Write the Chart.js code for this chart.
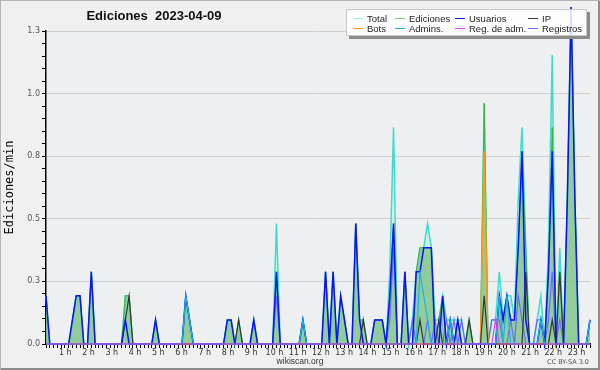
<!DOCTYPE html>
<html>
<head>
<meta charset="utf-8">
<script src="https://cdn.jsdelivr.net/npm/chart.js@4.4.1/dist/chart.umd.min.js"></script>
<style>
html, body { margin: 0; padding: 0; background: #fff; }
#frame { position: relative; width: 600px; height: 370px; background: #f0f0f0; overflow: hidden; }
#frame canvas { position: absolute; left: 0; top: 0; }
#edge { position: absolute; left: 0; top: 0; width: 600px; height: 370px; box-sizing: border-box;
  box-shadow: inset 1px 1px 0 #b4b4b4, inset -2px -2px 0 #8c8c8c; pointer-events: none; }
#title { position: absolute; left: 54px; width: 200px; top: 8px; text-align: center; white-space: pre;
  font: bold 13px "Liberation Sans", sans-serif; color: #111; }
#legend { position: absolute; left: 346px; top: 9px; width: 241px; height: 27px; box-sizing: border-box;
  background: rgba(255,255,255,0.85); border: 1px solid #c8c8c8; box-shadow: 3px 3px 0 #8a8a8a; }
.item { position: absolute; font: 9.5px "Liberation Sans", sans-serif; color: #222; white-space: nowrap; line-height: 10px; }
.sw { display: inline-block; width: 10px; height: 1px; vertical-align: 3px; margin-right: 4px; }
#site { position: absolute; left: 0; width: 600px; top: 356px; text-align: center; font: 8.5px "Liberation Sans", sans-serif; color: #333; }
#lic { position: absolute; right: 11px; top: 358px; font: 6.5px "DejaVu Sans", sans-serif; color: #555; }
</style>
</head>
<body>
<div id="frame">
  <canvas id="chart" width="600" height="370"></canvas>
  <div id="title">Ediciones  2023-04-09</div>
  <div id="legend"></div>
  <div id="site">wikiscan.org</div>
  <div id="lic">CC BY-SA 3.0</div>
  <div id="edge"></div>
</div>
<script>
// 10 minute bins from 00:00 to 24:00, values in edits per minute, two hours per row
const total = [
	0.2,0,0,0,0,0, 0,0.1,0.2,0.2,0,0,
	0.3,0,0,0,0,0, 0,0,0,0.2,0.2,0,
	0,0,0,0,0,0.1, 0,0,0,0,0,0,
	0,0.2,0.1,0,0,0, 0,0,0,0,0,0,
	0.1,0.1,0,0.1,0,0, 0,0.1,0,0,0,0,
	0,0.5,0,0,0,0, 0,0,0.1,0,0,0,
	0,0,0.3,0,0.3,0, 0.2,0.1,0,0,0.5,0.1,
	0.1,0,0,0.1,0.1,0.1, 0,0.3,0.9,0,0,0.3,
	0,0.1,0.3,0.4,0.4,0.5, 0.4,0.1,0.1,0.2,0.1,0.1,
	0.1,0.1,0.1,0,0.1,0, 0,0,1.0,0,0.1,0.1,
	0.3,0.1,0.2,0.2,0.1,0.6, 0.9,0.4,0,0,0.1,0.2,
	0,0.4,1.2,0,0.4,0, 0.6,1.4,0.6,0,0,0, 0.1
];
const ediciones = [
	0.2,0,0,0,0,0, 0,0.1,0.2,0.2,0,0,
	0.3,0,0,0,0,0, 0,0,0,0.2,0.2,0,
	0,0,0,0,0,0.1, 0,0,0,0,0,0,
	0,0.2,0.1,0,0,0, 0,0,0,0,0,0,
	0.1,0.1,0,0.1,0,0, 0,0.1,0,0,0,0,
	0,0.3,0,0,0,0, 0,0,0.1,0,0,0,
	0,0,0.3,0,0.3,0, 0.2,0.1,0,0,0.5,0.1,
	0.1,0,0,0.1,0.1,0.1, 0,0.2,0.5,0,0,0.3,
	0,0,0.3,0.4,0.4,0.4, 0.4,0,0.1,0.2,0,0.1,
	0,0.1,0,0,0.1,0, 0,0,1.0,0,0,0,
	0.2,0.1,0.2,0.1,0.1,0.4, 0.8,0.4,0,0,0,0.1,
	0,0.3,0.9,0,0.3,0, 0.6,1.4,0.6,0,0,0, 0.1
];
const usuarios = [
	0.2,0,0,0,0,0, 0,0.1,0.2,0.2,0,0,
	0.3,0,0,0,0,0, 0,0,0,0.1,0,0,
	0,0,0,0,0,0.1, 0,0,0,0,0,0,
	0,0.2,0.1,0,0,0, 0,0,0,0,0,0,
	0.1,0.1,0,0,0,0, 0,0.1,0,0,0,0,
	0,0.3,0,0,0,0, 0,0,0.1,0,0,0,
	0,0,0.3,0,0.3,0, 0.2,0.1,0,0,0.5,0.1,
	0,0,0,0.1,0.1,0.1, 0,0.2,0.5,0,0,0.3,
	0,0,0.3,0.3,0.4,0.4, 0.4,0,0,0.2,0,0.1,
	0,0.1,0,0,0,0, 0,0,0,0,0,0,
	0.2,0.1,0.2,0.1,0.1,0.4, 0.8,0.1,0,0,0,0.1,
	0,0.3,0.8,0,0,0, 0.6,1.4,0.6,0,0,0, 0.1
];
const ip = [
	0,0,0,0,0,0, 0,0,0,0,0,0,
	0,0,0,0,0,0, 0,0,0,0.1,0.2,0,
	0,0,0,0,0,0, 0,0,0,0,0,0,
	0,0,0,0,0,0, 0,0,0,0,0,0,
	0,0,0,0.1,0,0, 0,0,0,0,0,0,
	0,0,0,0,0,0, 0,0,0,0,0,0,
	0,0,0,0,0,0, 0,0,0,0,0,0,
	0.1,0,0,0,0,0, 0,0,0,0,0,0,
	0,0,0,0.1,0,0, 0,0,0.1,0,0,0,
	0,0,0,0,0.1,0, 0,0,0.2,0,0,0,
	0,0,0,0,0,0, 0,0.3,0,0,0,0,
	0,0,0.1,0,0.3,0, 0,0,0,0,0,0, 0
];
const bots = [
	0,0,0,0,0,0, 0,0,0,0,0,0,
	0,0,0,0,0,0, 0,0,0,0,0,0,
	0,0,0,0,0,0, 0,0,0,0,0,0,
	0,0,0,0,0,0, 0,0,0,0,0,0,
	0,0,0,0,0,0, 0,0,0,0,0,0,
	0,0,0,0,0,0, 0,0,0,0,0,0,
	0,0,0,0,0,0, 0,0,0,0,0,0,
	0,0,0,0,0,0, 0,0,0,0,0,0,
	0,0,0,0,0,0, 0,0,0,0,0,0,
	0,0,0,0,0,0, 0,0,0.8,0,0,0,
	0,0,0,0,0,0, 0,0,0,0,0,0,
	0,0,0,0,0,0, 0,0,0,0,0,0, 0
];
const admins = [
	0,0,0,0,0,0, 0,0,0,0,0,0,
	0,0,0,0,0,0, 0,0,0,0,0,0,
	0,0,0,0,0,0, 0,0,0,0,0,0,
	0,0.2,0.1,0,0,0, 0,0,0,0,0,0,
	0,0,0,0,0,0, 0,0,0,0,0,0,
	0,0,0,0,0,0, 0,0,0.1,0,0,0,
	0,0,0,0,0,0, 0,0,0,0,0,0,
	0,0,0,0,0,0, 0,0,0,0,0,0,
	0,0,0,0.3,0.2,0.1, 0,0,0,0,0,0.1,
	0,0,0,0,0,0, 0,0,0,0,0,0,
	0.2,0,0.2,0,0,0, 0,0,0,0,0,0.1,
	0,0,0,0,0,0, 0,0,0,0,0,0, 0.1
];
const regAdm = [
	0,0,0,0,0,0, 0,0,0,0,0,0,
	0,0,0,0,0,0, 0,0,0,0,0,0,
	0,0,0,0,0,0, 0,0,0,0,0,0,
	0,0,0,0,0,0, 0,0,0,0,0,0,
	0,0,0,0,0,0, 0,0,0,0,0,0,
	0,0,0,0,0,0, 0,0,0,0,0,0,
	0,0,0,0,0,0, 0,0,0,0,0,0,
	0,0,0,0,0,0, 0,0,0,0,0,0,
	0,0,0,0,0,0, 0,0,0,0,0,0,
	0,0,0,0,0,0, 0,0,0,0,0,0.1,
	0,0,0,0,0,0, 0,0,0,0,0,0,
	0,0,0,0,0,0, 0,0,0,0,0,0, 0
];
const registros = [
	0,0,0,0,0,0, 0,0,0,0,0,0,
	0,0,0,0,0,0, 0,0,0,0,0,0,
	0,0,0,0,0,0, 0,0,0,0,0,0,
	0,0,0,0,0,0, 0,0,0,0,0,0,
	0,0,0,0,0,0, 0,0,0,0,0,0,
	0,0.2,0,0,0,0, 0,0,0,0,0,0,
	0,0,0,0,0,0, 0,0,0,0,0,0,
	0,0,0,0,0,0, 0,0.1,0.4,0,0,0,
	0,0.1,0,0,0,0.1, 0,0.1,0,0,0.1,0,
	0.1,0,0.1,0,0,0, 0,0,0,0,0.1,0.1,
	0.1,0,0,0.1,0,0.2, 0.1,0,0,0,0.1,0.1,
	0,0.1,0.3,0,0.1,0, 0,0,0,0,0,0, 0
];

const hourTicks = ['1 h','2 h','3 h','4 h','5 h','6 h','7 h','8 h','9 h','10 h','11 h','12 h',
	'13 h','14 h','15 h','16 h','17 h','18 h','19 h','20 h','21 h','22 h','23 h'];
const yTicks = [0, 0.26, 0.52, 0.78, 1.04, 1.3];

const times = [];
for (let h = 0; h <= 24; h++) {
	for (let m = 0; m < 60; m += 10) {
		if (h === 24 && m > 0) break;
		times.push(String(h).padStart(2, '0') + ':' + String(m).padStart(2, '0'));
	}
}

// legend order: row 1 then row 2
const series = [
	{label: 'Total', data: total, color: '#3fdccc', key: '#9eeae4', width: 1.5, fill: 'rgba(196,238,234,0.6)', order: 8},
	{label: 'Ediciones', data: ediciones, color: '#3cb43c', key: '#7ccc7c', width: 1, fill: 'rgba(100,180,100,0.6)', order: 7},
	{label: 'Usuarios', data: usuarios, color: '#0a14f0', width: 1.5, order: 3},
	{label: 'IP', data: ip, color: '#333833', width: 1.2, order: 4},
	{label: 'Bots', data: bots, color: '#ff9a10', width: 1.5, order: 5},
	{label: 'Admins.', data: admins, color: '#1eb4dc', width: 1.2, order: 2},
	{label: 'Reg. de adm.', data: regAdm, color: '#e040f0', width: 1.2, order: 1},
	{label: 'Registros', data: registros, color: '#6a6aff', width: 1.2, order: 6}
];

const legendCols = [353, 395, 455, 528];
const legendRows = [4, 14];
const legend = document.getElementById('legend');
series.forEach(function (s, i) {
	const el = document.createElement('div');
	el.className = 'item';
	el.style.left = (legendCols[i % 4] - 347) + 'px';
	el.style.top = legendRows[Math.floor(i / 4)] + 'px';
	el.innerHTML = '<span class="sw" style="background:' + (s.key || s.color) + '"></span>' + s.label;
	legend.appendChild(el);
});

const plotBg = {
	id: 'plotBg',
	beforeDraw: function (chart) {
		const a = chart.chartArea;
		chart.ctx.save();
		chart.ctx.fillStyle = '#eeeff1';
		chart.ctx.fillRect(a.left, a.top, a.right - a.left, a.bottom - a.top);
		chart.ctx.restore();
	}
};

new Chart(document.getElementById('chart'), {
	type: 'line',
	data: {
		labels: times,
		datasets: series.map(function (s) {
			return {
				label: s.label,
				data: s.data,
				borderColor: s.color,
				borderWidth: s.width,
				backgroundColor: s.fill || s.color,
				fill: s.fill ? 'origin' : false,
				order: s.order,
				clip: false
			};
		})
	},
	options: {
		responsive: false,
		animation: false,
		layout: {padding: {left: 0, right: 10, top: 31, bottom: 0}},
		elements: {
			point: {radius: 0, hoverRadius: 0},
			line: {tension: 0, borderJoinStyle: 'miter'}
		},
		plugins: {
			legend: {display: false},
			tooltip: {enabled: false},
			filler: {drawTime: 'beforeDatasetsDraw'}
		},
		scales: {
			x: {
				type: 'category',
				offset: false,
				grid: {display: true, drawOnChartArea: false, drawTicks: true, color: '#000', tickLength: 4, lineWidth: 1},
				border: {color: '#000', width: 1.5},
				ticks: {autoSkip: false, maxRotation: 0, minRotation: 0, padding: 0, font: {size: 1}, callback: function () { return ''; }},
				afterFit: function (s) { s.height = 4; }
			},
			// hour labels sit on their own scale, a bit wider than the data bins
			hours: {
				type: 'linear',
				position: 'bottom',
				weight: 1,
				min: 0.168,
				max: 23.58,
				grid: {display: false, drawTicks: false},
				border: {display: false},
				ticks: {
					stepSize: 1, includeBounds: false, autoSkip: false, maxRotation: 0, minRotation: 0, padding: 0,
					color: '#333', font: {family: 'DejaVu Sans', size: 8},
					callback: function (v) {
						return (Number.isInteger(v) && v >= 1 && v <= 23) ? hourTicks[v - 1] : '';
					}
				},
				afterFit: function (s) { s.height = 22; }
			},
			y: {
				min: 0,
				max: 1.3,
				grid: {
					color: function (c) { return yTicks.indexOf(c.tick.value) >= 0 ? '#cfcfcf' : 'rgba(0,0,0,0)'; },
					tickColor: '#000', tickLength: 4, lineWidth: 1
				},
				border: {color: '#000', width: 1.5},
				ticks: {
					stepSize: 0.052, autoSkip: false, padding: 2,
					color: '#555', font: {family: 'DejaVu Sans', size: 8},
					callback: function (v) { return yTicks.indexOf(v) >= 0 ? v.toFixed(1) : ''; }
				},
				title: {
					display: true, text: 'Ediciones/min', color: '#000',
					font: {family: 'DejaVu Sans Mono', size: 12}, padding: {top: 3, bottom: 0}
				},
				afterFit: function (s) { s.width = 46; }
			}
		}
	},
	plugins: [plotBg]
});
</script>
</body>
</html>
